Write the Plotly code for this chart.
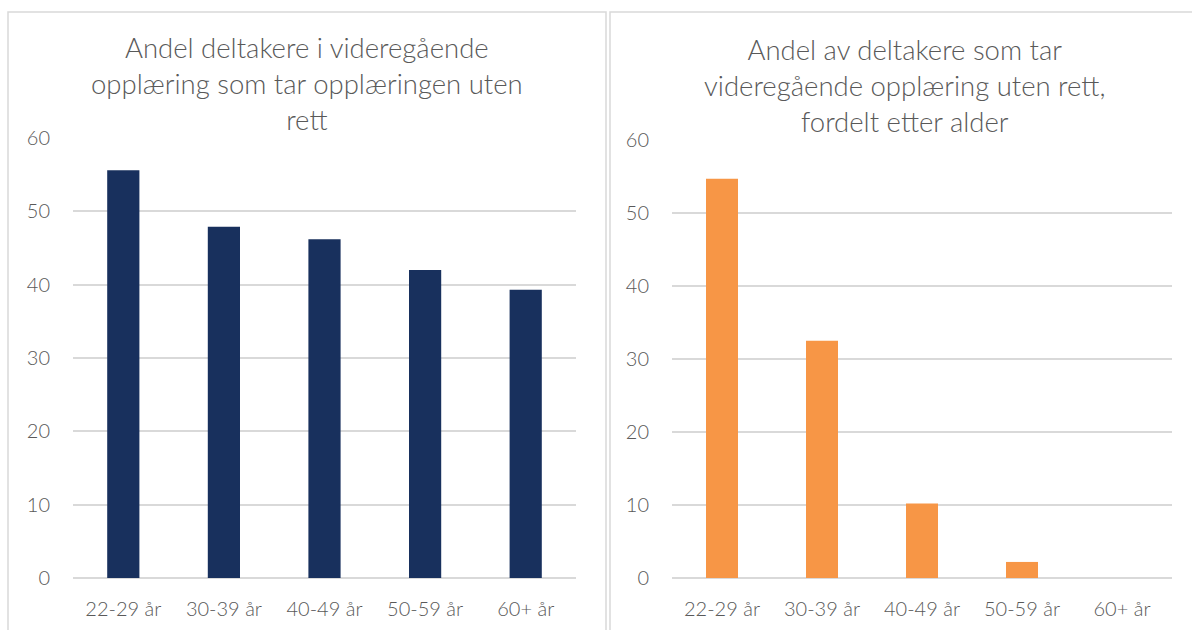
import plotly.graph_objects as go

categories = ["22-29 år", "30-39 år", "40-49 år", "50-59 år", "60+ år"]
left_values = [55.6, 47.9, 46.2, 42.0, 39.3]
right_values = [54.7, 32.5, 10.2, 2.2, 0]
left_title = "Andel deltakere i videregående<br>opplæring som tar opplæringen uten<br>rett"
right_title = "Andel av deltakere som tar<br>videregående opplæring uten rett,<br>fordelt etter alder"
y_ticks = [0, 10, 20, 30, 40, 50, 60]

W, H = 1192, 630
FONT = "Lato"
GRAY = "#595959"
GRID = "#D9D9D9"

fig = go.Figure()
fig.add_trace(go.Bar(x=categories, y=left_values, marker=dict(color="#18305D", line=dict(width=0)),
                     xaxis="x", yaxis="y", showlegend=False))
fig.add_trace(go.Bar(x=categories, y=right_values, marker=dict(color="#F79646", line=dict(width=0)),
                     xaxis="x2", yaxis="y2", showlegend=False))

def py(p):
    return 1 - p / H

tickfont = dict(family=FONT, size=20, color=GRAY, weight=300)
xax_common = dict(showline=False, ticks="", tickfont=tickfont, showgrid=False, zeroline=False,
                  ticklabelstandoff=17, automargin=False)
yax_common = dict(range=[0, 60], tickvals=y_ticks, showgrid=True, gridcolor=GRID, gridwidth=1.5,
                  zeroline=True, zerolinecolor=GRID, zerolinewidth=1.5, ticklabelstandoff=22,
                  showline=False, ticks="", tickfont=tickfont, automargin=False)

fig.update_layout(
    width=W, height=H, margin=dict(l=0, r=0, t=0, b=0, autoexpand=False),
    paper_bgcolor="white", plot_bgcolor="white",
    bargap=0.68,
    xaxis=dict(domain=[73 / W, 576 / W], anchor="y", **xax_common),
    yaxis=dict(domain=[py(578), py(138)], anchor="x", **yax_common),
    xaxis2=dict(domain=[672 / W, 1172 / W], anchor="y2", **xax_common),
    yaxis2=dict(domain=[py(578), py(140)], anchor="x2", **yax_common),
    font=dict(family=FONT, color=GRAY),
)

title_font = dict(family=FONT, size=27.5, color=GRAY, weight=300)
fig.add_annotation(text=left_title, xref="paper", yref="paper", x=307 / W, y=py(29),
                   xanchor="center", yanchor="top", showarrow=False, align="center",
                   font=title_font)
fig.add_annotation(text=right_title, xref="paper", yref="paper", x=905 / W, y=py(31),
                   xanchor="center", yanchor="top", showarrow=False, align="center",
                   font=title_font)

fig.add_shape(type="rect", xref="paper", yref="paper", x0=8 / W, x1=606 / W, y0=py(640), y1=py(12),
              line=dict(color=GRID, width=1.5), layer="below")
fig.add_shape(type="rect", xref="paper", yref="paper", x0=610 / W, x1=1200 / W, y0=py(640), y1=py(12),
              line=dict(color=GRID, width=1.5), layer="below")

fig.write_html("out.html", config={"displayModeBar": False},
               post_script="document.body.style.margin='0';")
